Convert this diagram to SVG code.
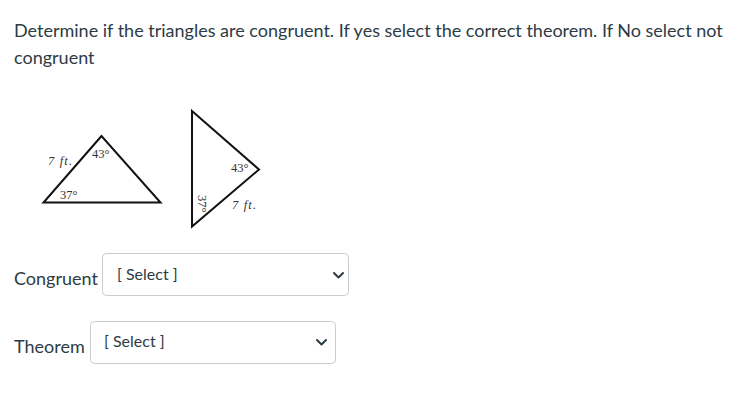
<svg xmlns="http://www.w3.org/2000/svg" width="743" height="403" viewBox="0 0 743 403">
<style>
.t{font-family:Lato,"Open Sans","Liberation Sans",sans-serif;fill:#2d3b45;font-size:18px}
.s{font-family:Lato,"Open Sans","Liberation Sans",sans-serif;fill:#2d3b45;font-size:16px}
.m{font-family:"Liberation Serif","DejaVu Serif",serif;fill:#333;font-size:12.5px}
.tri{fill:none;stroke:#111;stroke-width:2;stroke-linejoin:miter}
.box{fill:#fff;stroke:#c7cdd1;stroke-width:1}
.chev{fill:none;stroke:#2d3b45;stroke-width:2;stroke-linecap:round;stroke-linejoin:round}
</style>
<rect width="743" height="403" fill="#fff"/>
<text class="t" x="14" y="37">Determine if the triangles are congruent. If yes select the correct theorem. If No select not</text>
<text class="t" x="14" y="64">congruent</text>
<g id="triangle1">
<polygon class="tri" points="101.5,136 43.5,202.5 160.5,202.5"/>
<text class="m" x="48" y="165" font-style="italic" textLength="24" lengthAdjust="spacing">7 ft.</text>
<text class="m" x="92" y="158">43°</text>
<text class="m" x="60" y="199">37°</text>
</g>
<g id="triangle2">
<polygon class="tri" points="192,111 259,169.5 192,226.5"/>
<text class="m" x="231" y="172">43°</text>
<text class="m" x="232" y="209" font-style="italic" textLength="24" lengthAdjust="spacing">7 ft.</text>
<text class="m" transform="translate(198,195) rotate(90)">37°</text>
</g>
<g id="congruent">
<text class="t" x="14" y="285">Congruent</text>
<rect class="box" x="102.5" y="253.5" width="246" height="42" rx="4"/>
<text class="s" x="117" y="280">[ Select ]</text>
<polyline class="chev" points="334,273 338.5,277.5 343,273"/>
</g>
<g id="theorem">
<text class="t" x="14" y="353">Theorem</text>
<rect class="box" x="90.5" y="321.5" width="245" height="42" rx="4"/>
<text class="s" x="104" y="347">[ Select ]</text>
<polyline class="chev" points="317,340 321.5,344.5 326,340"/>
</g>
</svg>
